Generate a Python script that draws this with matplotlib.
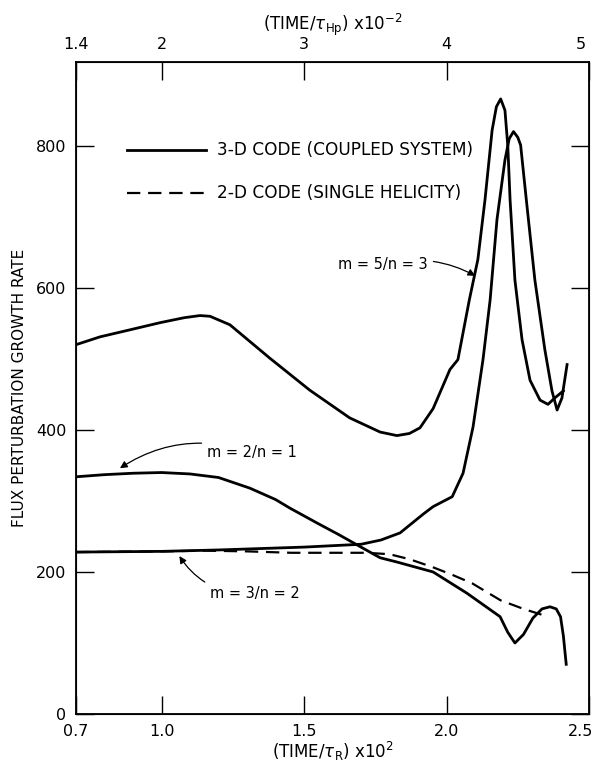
import matplotlib
matplotlib.use("Agg")
import matplotlib.pyplot as plt
import matplotlib.transforms as mtransforms

# m=5/n=3 (3-D code)
x_m5 = [0.70, 0.784, 0.89, 0.995, 1.08, 1.135, 1.17, 1.24, 1.38, 1.52, 1.66, 1.767, 1.826,
        1.87, 1.907, 1.953, 2.012, 2.04, 2.08, 2.11, 2.135, 2.16, 2.175, 2.19, 2.205, 2.215,
        2.223, 2.24, 2.265, 2.293, 2.328, 2.356, 2.38, 2.41]
y_m5 = [520, 531, 541, 551, 558, 561, 560, 548, 501, 456, 417, 397, 392,
        395, 403, 430, 485, 499, 583, 640, 724, 822, 855, 866, 850, 800,
        724, 611, 527, 470, 442, 436, 445, 455]

# m=3/n=2 (3-D code)
x_m3 = [0.70, 1.0, 1.2, 1.5, 1.6, 1.7, 1.77, 1.837, 1.88, 1.92, 1.953, 2.02, 2.058, 2.093,
        2.128, 2.153, 2.177, 2.205, 2.22, 2.235, 2.25, 2.26, 2.28, 2.31, 2.345, 2.37,
        2.388, 2.405, 2.423]
y_m3 = [228, 229, 231, 235, 237, 239, 245, 255, 269, 282, 292, 306, 339, 404,
        499, 583, 696, 780, 810, 820, 812, 801, 724, 611, 513, 455,
        428, 445, 492]

# m=2/n=1 (3-D code)
x_m2 = [0.70, 0.80, 0.90, 1.0, 1.1, 1.2, 1.31, 1.40, 1.45, 1.55, 1.62, 1.70, 1.767, 1.826,
        1.953, 2.072, 2.188, 2.215, 2.24, 2.27, 2.303, 2.335, 2.363, 2.385, 2.40, 2.41, 2.42]
y_m2 = [334, 337, 339, 340, 338, 333, 318, 302, 290, 268, 253, 235, 220, 214,
        200, 170, 137, 115, 100, 112, 135, 148, 151, 148, 137, 110, 70]

# 2-D code (single helicity)
x_2d = [0.70, 1.0, 1.15, 1.30, 1.456, 1.60, 1.72, 1.80, 1.87, 1.95, 2.02, 2.09, 2.19, 2.27, 2.356]
y_2d = [228, 229, 230, 229, 227, 227, 227, 225, 218, 207, 196, 184, 160, 148, 137]

xticks = [0.7, 1.0, 1.5, 2.0, 2.5]
xtick_labels = ["0.7", "1.0", "1.5", "2.0", "2.5"]
top_ticks = [1.4, 2, 3, 4, 5]
top_labels = ["1.4", "2", "3", "4", "5"]
yticks = [0, 200, 400, 600, 800]

fig = plt.figure(figsize=(6, 7.72), dpi=100)
ax = fig.add_axes([0.1267, 0.0751, 0.855, 0.8446])

lw = 2.0
ax.plot(x_m5, y_m5, color='k', lw=lw, solid_joinstyle='round')
ax.plot(x_m3, y_m3, color='k', lw=lw, solid_joinstyle='round')
ax.plot(x_m2, y_m2, color='k', lw=lw, solid_joinstyle='round')
ax.plot(x_2d, y_2d, color='k', lw=1.6, linestyle=(0, (6, 3.5)))

ax.set_xlim(0.7, 2.5)
ax.set_ylim(0, 918)
ax.set_xticks(xticks)
ax.set_xticklabels(xtick_labels)
ax.set_yticks(yticks)
ax.tick_params(direction='in', length=13, width=1.0, labelsize=11.5, right=True, pad=7)
for s in ax.spines.values():
    s.set_linewidth(1.3)

# nudge the last bottom label so it stays inside the figure
shift = mtransforms.ScaledTranslation(-6 / 72, 0, fig.dpi_scale_trans)
lab = ax.get_xticklabels()[-1]
lab.set_transform(lab.get_transform() + shift)

ax2 = ax.twiny()
ax2.set_xlim(1.4, 5.0)
ax2.set_xticks(top_ticks)
ax2.set_xticklabels(top_labels)
ax2.tick_params(direction='in', length=13, width=1.0, labelsize=11.5, pad=7)
lab2 = ax2.get_xticklabels()[-1]
lab2.set_transform(lab2.get_transform() + shift)

ax.set_ylabel('FLUX PERTURBATION GROWTH RATE', fontsize=11, labelpad=6)
ax.set_xlabel(r'(TIME/$\tau_\mathregular{R}$) x10$^\mathregular{2}$', fontsize=12, labelpad=1)
ax2.set_xlabel(r'(TIME/$\tau_\mathregular{Hp}$) x10$^\mathregular{-2}$', fontsize=12, labelpad=5)

# legend drawn as in the figure
ax.plot([0.88, 1.155], [794, 794], color='k', lw=lw)
ax.plot([0.88, 1.155], [733, 733], color='k', lw=1.6, linestyle=(0, (6, 3.5)))
ax.text(1.195, 794, '3-D CODE (COUPLED SYSTEM)', fontsize=12.2, va='center')
ax.text(1.195, 733, '2-D CODE (SINGLE HELICITY)', fontsize=12.2, va='center')

# curve labels with arrows
ax.annotate('m = 5/n = 3', xy=(2.105, 616), xytext=(1.62, 633), fontsize=10.5,
            va='center', ha='left',
            arrowprops=dict(arrowstyle='-|>', color='k', lw=0.9,
                            connectionstyle='arc3,rad=-0.2', shrinkA=2, shrinkB=1))
ax.annotate('m = 2/n = 1', xy=(0.85, 345), xytext=(1.16, 368), fontsize=10.5,
            va='center', ha='left',
            arrowprops=dict(arrowstyle='-|>', color='k', lw=0.9,
                            connectionstyle='arc3,rad=0.25', shrinkA=2, shrinkB=1))
ax.annotate('m = 3/n = 2', xy=(1.06, 224), xytext=(1.17, 170), fontsize=10.5,
            va='center', ha='left',
            arrowprops=dict(arrowstyle='-|>', color='k', lw=0.9,
                            connectionstyle='arc3,rad=-0.3', shrinkA=2, shrinkB=1))

fig.savefig('out.png', dpi=100)
